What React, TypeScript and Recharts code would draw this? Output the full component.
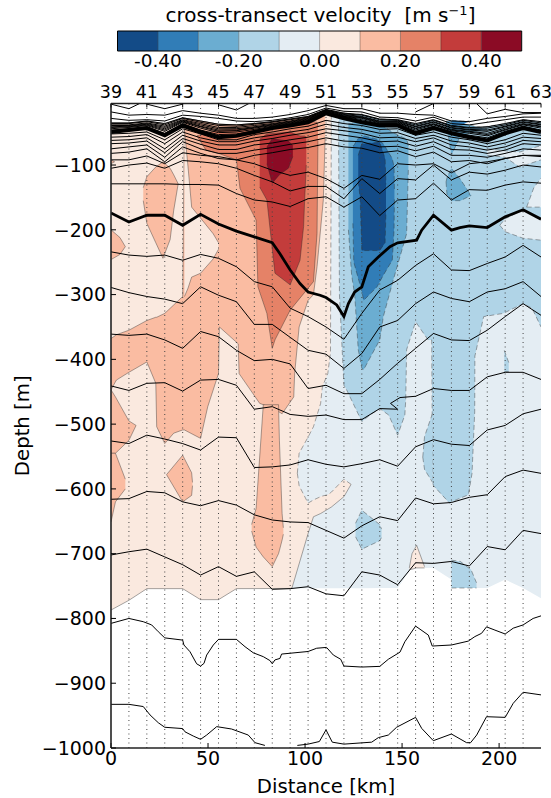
import React from 'react';
import { ComposedChart, Area, Line, XAxis, YAxis, ReferenceLine, ReferenceArea } from 'recharts';

const KM = 9.233;
const FONT = '"DejaVu Sans", sans-serif';
const colors = ['#134b87', '#317db7', '#6badd1', '#b0d4e7', '#e4edf3', '#fae9df', '#fabca2', '#e58267', '#c33c3b', '#8b0b25'];
const [DB, MB2, MB, LB, PB, PO, OR, CO, RE, DR] = colors;
const levelEdges = [-0.5, -0.4, -0.3, -0.2, -0.1, 0, 0.1, 0.2, 0.3, 0.4, 0.5];
const levelTicks = [-0.4, -0.2, 0, 0.2, 0.4];
const stationLabels = [39, 41, 43, 45, 47, 49, 51, 53, 55, 57, 59, 61, 63];
const depthTicks = [-100, -200, -300, -400, -500, -600, -700, -800, -900, -1000];
const distTicks = [0, 50, 100, 150, 200];
const stations = Array.from({ length: 25 }, (_, i) => i);

// isopycnals: depth (m) at each station
const u1 = [18, 23, 22, 23, 16, 20, 23, 28, 28, 26, 22, 16, 8, 13, 13, 20, 20, 22, 23, 32, 33, 28, 25, 21, 20];
const u2 = [28, 31, 30, 32, 23, 25, 28, 32, 33, 31, 27, 22, 12, 17, 18, 26, 27, 32, 26, 36, 38, 34, 30, 26, 26];
const u3 = [35, 35, 32, 36, 27, 32, 37, 38, 36, 33, 29, 25, 14, 20, 22, 29, 30, 36, 30, 39, 42, 41, 36, 30, 33];
const u3b = [36, 36, 33, 38, 28, 34, 39, 40, 37, 34, 30, 26, 15, 21, 23, 30, 31, 38, 31, 40, 43, 43, 38, 31, 35];
const u4 = [38, 38, 35, 40, 30, 36, 42, 42, 39, 36, 32, 27, 15, 22, 25, 32, 32, 40, 33, 42, 45, 46, 40, 33, 37];
const u4b = [39, 39, 36, 42, 31, 38, 44, 44, 41, 37, 33, 28, 16, 23, 26, 33, 33, 41, 34, 43, 46, 48, 41, 34, 38];
const u5 = [41, 40, 37, 44, 32, 40, 46, 46, 42, 38, 34, 29, 16, 24, 27, 34, 34, 43, 36, 45, 48, 51, 43, 36, 40];
const u5b = [42, 41, 38, 46, 33, 41, 48, 47, 43, 39, 35, 30, 17, 25, 28, 35, 35, 44, 37, 46, 49, 53, 45, 37, 41];
const u6 = [44, 42, 39, 48, 34, 43, 50, 49, 45, 40, 36, 31, 18, 25, 30, 36, 36, 46, 38, 47, 51, 55, 46, 38, 43];
const u6b = [46, 44, 41, 51, 36, 46, 53, 52, 47, 41, 37, 32, 19, 26, 32, 37, 37, 48, 40, 49, 54, 58, 48, 40, 46];
const thickUpper = [49, 46, 43, 54, 39, 49, 57, 55, 49, 43, 39, 34, 20, 28, 34, 39, 39, 51, 43, 51, 57, 62, 51, 43, 49];
const l1 = [52, 51, 49, 61, 44, 52, 61, 61, 53, 49, 44, 40, 31, 36, 39, 45, 44, 54, 49, 57, 61, 67, 61, 51, 54];
const l2 = [57, 56, 53, 67, 49, 58, 64, 64, 58, 54, 49, 45, 37, 42, 45, 51, 50, 59, 54, 63, 66, 72, 66, 57, 59];
const l3 = [62, 61, 58, 75, 54, 63, 69, 69, 63, 59, 54, 50, 44, 47, 51, 58, 57, 64, 58, 69, 72, 77, 72, 62, 64];
const l4 = [67, 66, 63, 81, 59, 68, 76, 76, 69, 66, 61, 57, 50, 54, 58, 64, 63, 71, 64, 76, 77, 82, 77, 67, 69];
const l5 = [75, 72, 69, 88, 64, 75, 82, 82, 77, 73, 68, 64, 58, 63, 64, 72, 71, 78, 71, 85, 85, 88, 82, 75, 77];
const l6 = [82, 80, 75, 95, 72, 82, 90, 92, 85, 81, 76, 73, 67, 72, 74, 81, 78, 87, 80, 95, 93, 98, 90, 85, 85];
const l7 = [92, 92, 86, 98, 81, 85, 87, 92, 98, 108, 116, 111, 121, 136, 116, 122, 98, 100, 98, 112, 98, 95, 90, 85, 87];
const l8 = [105, 100, 97, 105, 93, 95, 98, 105, 116, 126, 140, 133, 133, 152, 121, 144, 121, 123, 100, 123, 111, 114, 108, 100, 103];
const l9 = [129, 129, 129, 129, 130, 130, 131, 144, 154, 157, 164, 152, 149, 165, 149, 178, 154, 152, 128, 154, 138, 139, 131, 126, 128];
const l10 = [234, 239, 241, 239, 247, 238, 244, 257, 280, 288, 321, 334, 350, 369, 329, 293, 278, 255, 237, 262, 263, 252, 242, 224, 242];
const l11 = [289, 297, 303, 307, 314, 288, 301, 311, 346, 346, 366, 386, 392, 414, 391, 350, 340, 314, 296, 306, 311, 296, 291, 280, 303];
const l12 = [361, 363, 361, 370, 383, 357, 365, 386, 402, 400, 407, 445, 440, 453, 453, 431, 406, 383, 360, 370, 371, 355, 334, 314, 332];
const l14 = [526, 530, 517, 523, 530, 540, 520, 521, 567, 566, 563, 555, 562, 566, 561, 555, 565, 535, 524, 531, 533, 509, 502, 484, 477];
const l15 = [616, 615, 604, 606, 620, 626, 618, 625, 640, 648, 651, 652, 664, 676, 657, 643, 649, 614, 623, 621, 613, 609, 581, 571, 576];
const l16 = [702, 697, 693, 705, 717, 733, 720, 735, 728, 755, 754, 751, 762, 765, 728, 733, 748, 714, 715, 712, 719, 689, 694, 664, 669];

// isopycnals that do not follow the plain station grid: [station, depth]
const thickLower: number[][] = [[0, 174], [1, 188], [2, 177.5], [3, 177.5], [4, 193], [5, 176], [6, 191], [7, 202], [8, 211], [9, 220], [9.43, 237], [10, 262], [10.55, 283], [11, 296], [11.67, 301], [12, 304.5], [12.6, 316], [13, 334], [13.25, 314], [13.6, 296], [14, 288], [14.36, 257], [14.92, 242], [15.57, 226], [16, 220], [17.06, 216], [17.34, 200.6], [18, 177.5], [19, 200.6], [19.48, 196.5], [20, 194], [21, 196.5], [22, 180], [23, 169], [24, 183.6]];
const l13: number[][] = [[0, 441], [1, 448], [2, 437], [3, 436], [4, 449], [5, 432], [6, 431], [7, 440], [8, 477], [9, 473], [10, 485], [11, 488], [12, 486], [13, 493], [14, 493], [15, 476], [16, 477], [15.6, 468], [16.13, 459], [17, 457], [18, 445], [19, 448], [20, 448], [21, 427], [22, 420], [23, 420], [24, 431]];
const l17: number[][] = [[0, 807.6], [1, 800], [1.8, 805], [2.27, 810], [2.64, 820.5], [3, 830], [4, 833.4], [4.07, 841], [4.41, 851.4], [4.78, 870], [5, 873.5], [5.19, 869.4], [5.34, 856.5], [5.71, 841], [6, 832.3], [7, 832.3], [7.48, 843.6], [7.94, 853], [8.5, 859], [8.87, 865], [9, 870], [9.15, 864], [9.43, 861.7], [9.52, 855], [11, 851], [11.48, 846], [12.03, 844.7], [12.41, 856.5], [12.82, 863], [13, 873.5], [14, 875], [15, 874], [15.48, 863], [16.13, 852], [16.4, 836], [17, 811.8], [17.71, 825.6], [17.93, 842.6], [19, 841], [19.94, 835], [20.31, 828], [20.68, 823], [20.96, 813], [21.43, 818], [22, 824], [22.45, 815], [23, 810], [23.56, 800], [24, 796]];
const l18a: number[][] = [[0, 932.6], [1, 932.6], [1.8, 936], [2.18, 949], [2.64, 961], [3, 968], [4, 970], [4.13, 975], [4.59, 981.5], [5, 986.6], [5.34, 980], [5.9, 967], [6.73, 970.7], [7.66, 980], [8.04, 991.8], [8.59, 996]];
const l18b: number[][] = [[10.4, 996], [11, 994], [11.63, 990], [12, 972], [12.35, 991], [13, 994], [14.55, 991], [14.92, 984], [15.48, 980], [15.94, 968], [17, 952.7], [17.34, 969.7], [17.99, 988.7], [19, 978.4], [19.85, 991.8], [20.07, 991.8], [20.41, 980], [20.96, 951.7], [22, 952.7], [22.45, 931], [23, 914], [24, 918]];
const t1: number[][] = [[0, 6], [1, 13], [1.6, 5]];
const t2: number[][] = [[2, 6], [3, 13], [4, 6]];
const t3: number[][] = [[6, 7], [7, 15], [7.7, 5]];
const t4: number[][] = [[20.4, 5], [21, 21], [22, 14], [23, 19], [24, 19]];
const t5: number[][] = [[17, 18], [18, 5]];

// lower edge of the filled data
const floorEdge: number[][] = [[0, 787], [1, 772], [2, 754], [4, 754], [5, 771], [6, 771], [7, 754], [16, 753], [16.7, 725], [17, 722], [18, 722], [19, 740], [19.02, 753], [21, 753], [22, 740], [23, 753], [24, 769]];

const topAt = (s: number) => {
  const i = Math.min(23, Math.floor(s));
  return u3[i] + (u3[i + 1] - u3[i]) * (s - i);
};
const bottomAt = (s: number) => {
  for (let i = 0; i < floorEdge.length - 1; i++) {
    const [a, da] = floorEdge[i];
    const [b, db] = floorEdge[i + 1];
    if (s >= a && s <= b) return da + (db - da) * (s - a) / (b - a);
  }
  return 753;
};

// velocity regions: [station, upper depth | null = top of data, lower depth | null = floor]
const N = null;
const baseStations = [...new Set([...stations, ...floorEdge.map(p => p[0])])].sort((a, b) => a - b);
const baseRegion = baseStations.map(s => [s, N, N]);
const paleOrange = [...baseStations.filter(s => s <= 10).map(s => [s, N, N]), [10.1, N, 753], [11, N, 669], [11.3, N, 643], [11.7, N, 638], [12.3, N, 628], [13, N, 612], [13.4, N, 593]];
const paleBlue1 = [[10.4, 576, 576], [10.5, 545, 595], [11, 520, 622], [11.3, 504, 617], [11.7, 468, 612], [11.8, 442, 611], [12.1, 422, 609], [12.25, 390, 606], [12.3, N, 605], [13, N, 585], [13.4, N, 593]];
const paleOrange2 = [[16.65, 722, 724], [16.8, 700, 724], [17.06, 687, 722], [17.5, 720, 722]];

const light1 = [[12.7, 40, 40], [12.75, N, 300], [13, N, 440], [13.15, N, 447], [14, N, 496], [14.5, N, 485], [15, N, 476], [15.5, N, 486], [16, N, 517], [16.4, N, 486], [16.45, N, 463], [16.5, N, 385], [17, N, 342], [17.7, N, 370], [17.9, N, 370], [17.95, N, 590], [18, N, 595], [18.9, N, 622], [19, N, 620], [19.95, N, 609], [20.15, N, 576], [20.3, N, 481], [20.31, N, 395], [20.8, N, 334], [21.9, N, 329], [23, N, 314], [23.5, N, 321], [24, N, 350]];
const light2 = [[17.4, 551, 551], [17.5, 519, 570], [17.95, 483, 590]];
const light3 = [[19, 710, 753], [19.5, 712, 753], [20.1, 725, 753], [20.4, 745, 753]];
const light4 = [[13.65, 653, 674], [14, 633, 693], [15, 655, 680], [15.1, 662, 675]];
const light5 = [[21.95, 386, 419], [22.2, 405, 419]];
const pale2 = [[21.7, 193, 193], [22, 183, 203], [23, 169, 213], [24, 183, 216]];
const pale3 = [[21, 75, 85], [22, 78, 88], [22.8, 80, 103], [24, 70, 92]];
const pale4 = [[23.2, 165, 165], [23.6, 135, 165], [24, 120, 165]];

const mid1 = [[13.25, 36, 200], [13.43, 36, 270], [13.6, 34, 300], [13.8, 34, 385], [14, 34, 414], [14.1, 34, 416], [15, 38, 370], [15.2, 40, 334], [15.75, 50, 278], [16.5, 60, 206], [16.6, 70, 103]];
const mid2 = [[18.7, 126, 126], [18.75, 120, 145], [19, 105, 155], [19.5, 122, 155], [20.1, 147, 147]];
const mid3 = [[18.7, 32, 32], [19, 32, 85], [19.5, 36, 55], [20, 38, 50], [21, 45, 45]];
const dark1 = [[19, 31, 40], [19.6, 32, 38], [20, 32, 32]];
const deep1 = [[13.5, 70, 190], [13.55, 70, 250], [13.75, 60, 270], [14, 57, 295], [14.1, 55, 309], [14.85, 60, 288], [15.2, 67, 270], [15.7, 90, 247], [15.8, 103, 200], [15.82, 140, 150]];
const deepest = [[13.8, 85, 125], [13.9, 75, 150], [14, 67, 232], [15, 65, 232], [15.3, 90, 220], [15.35, 130, 170]];

const orangeMain = [[0, 368, 447], [0.3, 362, 432], [1, 355, 420], [2, 340, 404], [2.5, 335, 437], [2.55, 335, 504], [3, 329, 530], [3.5, 316, 514], [4, 303, 509], [4.1, N, 509], [5, N, 522], [5.4, N, 473], [6, N, 422], [6.05, N, 350], [7.1, N, 376], [7.15, N, 422], [8.3, N, 468], [9, N, 475], [9.55, N, 484], [10.2, N, 458], [10.25, N, 422], [10.5, N, 350], [11, N, 309], [11.3, N, 300], [11.5, N, 257], [11.85, N, 154], [11.95, N, 60]];
const tongue = [[4.1, 46, 303], [4.3, 103, 290], [4.5, 165, 273], [5, 182, 267], [5.7, 206, 245], [6, 220, 230]];
const orangeCol = [[7.85, 655, 665], [8.1, 630, 690], [8.5, 470, 705], [9, 470, 720], [9.35, 470, 700], [9.4, 525, 695], [9.55, 638, 679], [9.62, 660, 670]];
const orangeL1 = [[0, 447, 545], [0.25, 458, 545], [1, 495, 525], [1.4, 502, 502]];
const orangeL2 = [[0, 545, 651], [0.25, 545, 620], [0.8, 585, 600]];
const orangeB1 = [[3.1, 578, 578], [4, 548, 620], [4.5, 575, 610], [4.55, 590, 595]];
const orangeB2 = [[1.8, 135, 155], [2, 118, 190], [2.5, 103, 220], [2.9, 95, 244], [3.3, 105, 215], [3.5, 115, 170], [3.75, 129, 129]];
const orangeB3 = [[0, 92, 98], [0.2, 95, 95]];
const orangeB4 = [[0, 200, 246], [0.5, 212, 238], [0.8, 226, 226]];
const coral = [[4.8, 55, 55], [5.3, 50, 77], [6, 46, 82], [7, 44, 92], [7.2, 44, 136], [8.1, 44, 185], [8.2, 44, 288], [8.7, 44, 329], [9, 44, 383], [9.15, 42, 370], [10, 38, 324], [11.3, 33, 280], [11.5, 34, 206], [11.55, 40, 62]];
const red = [[8.3, 60, 134], [8.7, 52, 154], [9.15, 51, 267], [10, 49, 285], [10.55, 55, 247], [10.75, 55, 195], [10.8, 55, 160], [10.9, 57, 100]];
const darkRed = [[8.7, 72, 98], [9, 59, 128], [9.4, 61, 115], [9.9, 63, 105], [10.15, 70, 87]];

const fillLayers: [any[], string, boolean][] = [
  [baseRegion, PB, true], [paleOrange, PO, false], [paleBlue1, PB, true], [paleOrange2, PO, false],
  [light1, LB, true], [light2, LB, true], [light3, LB, true], [light4, LB, true], [light5, LB, true],
  [pale2, PB, true], [pale3, PB, true], [pale4, PB, true],
  [mid1, MB, true], [mid2, MB, true], [mid3, MB, true], [dark1, MB2, true], [deep1, MB2, true], [deepest, DB, true],
  [orangeMain, OR, false], [tongue, PO, false], [orangeCol, OR, false], [orangeL1, OR, false], [orangeL2, OR, false],
  [orangeB1, OR, false], [orangeB2, OR, false], [orangeB3, OR, false], [orangeB4, OR, false],
  [coral, CO, false], [red, RE, false], [darkRed, DR, false],
];

const toRegion = (rows: any[]) => rows.map(([s, lo, hi]) => ({
  x: s * KM,
  r: [-(hi ?? bottomAt(s)), -(lo ?? topAt(s))],
}));
const fromGrid = (depths: number[]) => depths.map((d, i) => ({ x: i * KM, d: -d }));
const fromPairs = (pairs: number[][]) => pairs.map(([s, d]) => ({ x: s * KM, d: -d }));

const gridLines = [u1, u2, u3, u3b, u4, u4b, u5, u5b, u6, u6b, l1, l2, l3, l4, l5, l6, l7, l8, l9, l10, l11, l12, l14, l15, l16];
const pairLines = [l13, l17, l18a, l18b, t1, t2, t3, t4, t5];

const tickStyle = { fontFamily: FONT, fontSize: 19, fill: '#000' };
const axisLine = { stroke: '#222', strokeWidth: 1.6 };
const tickLine = { stroke: '#000', strokeWidth: 1 };
const XMAX = 24 * KM;

function Colorbar() {
  return (
    <ComposedChart width={551} height={80} margin={{ top: 31, left: 117.5, right: 29.3, bottom: 0 }}>
      <XAxis dataKey="x" type="number" domain={[-0.5, 0.5]} ticks={levelTicks} height={29} tickSize={0} tickMargin={3}
        axisLine={false} tickLine={false} tick={{ ...tickStyle, fontSize: 18.5 }} tickFormatter={(v: number) => v.toFixed(2)} allowDataOverflow />
      <YAxis hide domain={[0, 1]} />
      {colors.map((c, i) => (
        <Area key={i} data={[{ x: levelEdges[i], r: [0, 1] }, { x: levelEdges[i + 1], r: [0, 1] }]} dataKey="r" type="linear"
          fill={c} fillOpacity={1} stroke="none" isAnimationActive={false} dot={false} activeDot={false} />
      ))}
      {levelEdges.slice(1, 10).map((e, i) => (
        <ReferenceLine key={i} x={e} stroke="rgba(0,0,0,0.3)" strokeWidth={1} />
      ))}
      <ReferenceArea x1={-0.5} x2={0.5} y1={0} y2={1} fill="none" stroke="#000" strokeWidth={1} fillOpacity={0} />
    </ComposedChart>
  );
}

export default function App() {
  return (
    <div style={{ position: 'absolute', left: 0, top: 0, width: 551, height: 798, background: '#fff', overflow: 'hidden' }}>
      <div style={{ position: 'absolute', left: 0, top: 0 }}><Colorbar /></div>
      <div style={{ position: 'absolute', left: 100, width: 441, textAlign: 'center', top: 3, whiteSpace: 'pre', fontFamily: FONT, fontSize: 20, lineHeight: '24px', color: '#000' }}>
        {'cross-transect velocity  [m s'}<sup style={{ fontSize: 13, lineHeight: 0, verticalAlign: 7 }}>{'\u22121'}</sup>{']'}
      </div>
      <div style={{ position: 'absolute', left: 0, top: 0 }}>
        <ComposedChart width={551} height={798} margin={{ top: 0, left: 0, right: 10, bottom: 0 }}>
          <XAxis dataKey="x" type="number" domain={[0, XMAX]} ticks={distTicks} height={50} allowDataOverflow
            tick={tickStyle} tickSize={-5} tickMargin={9} axisLine={axisLine} tickLine={tickLine}
            label={{ value: 'Distance [km]', position: 'insideBottom', offset: 5, style: { fontFamily: FONT, fontSize: 19.7, fill: '#000' } }} />
          <XAxis xAxisId="top" orientation="top" dataKey="x" type="number" domain={[0, XMAX]} height={103.5} allowDataOverflow
            ticks={stationLabels.map((_, i) => i * 2 * KM)} tickFormatter={(v: number) => String(stationLabels[Math.round(v / (2 * KM))])}
            tick={{ ...tickStyle, fontSize: 17.5 }} tickSize={-4} tickMargin={10} axisLine={axisLine} tickLine={tickLine} interval={0} />
          <YAxis type="number" domain={[-1000, -5]} ticks={depthTicks} width={111} allowDataOverflow interval={0}
            tick={tickStyle} tickSize={-5} tickMargin={10} axisLine={axisLine} tickLine={tickLine}
            tickFormatter={(v: number) => '\u2212' + Math.abs(v)}
            label={{ value: 'Depth [m]', angle: -90, position: 'insideLeft', offset: 22, style: { fontFamily: FONT, fontSize: 19.7, fill: '#000', textAnchor: 'middle' } }} />
          <YAxis yAxisId="right" orientation="right" type="number" domain={[-1000, -5]} ticks={depthTicks} width={0} allowDataOverflow interval={0}
            tick={false} tickSize={-5} axisLine={axisLine} tickLine={tickLine} />
          {fillLayers.map(([rows, color, neg], i) => (
            <Area key={i} data={toRegion(rows)} dataKey="r" type="linear" fill={color} fillOpacity={1}
              stroke={i === 0 ? 'none' : 'rgba(40,40,40,0.4)'} strokeWidth={1} strokeDasharray={neg ? '5 3' : undefined}
              dot={false} activeDot={false} isAnimationActive={false} />
          ))}
          {stations.slice(1, 24).map(s => (
            <ReferenceLine key={s} x={s * KM} stroke="#444" strokeWidth={1} strokeDasharray="1 3.5" />
          ))}
          {gridLines.map((l, i) => (
            <Line key={i} data={fromGrid(l)} dataKey="d" type="linear" stroke="#000" strokeWidth={1} dot={false} activeDot={false} isAnimationActive={false} />
          ))}
          {pairLines.map((l, i) => (
            <Line key={i} data={fromPairs(l)} dataKey="d" type="linear" stroke="#000" strokeWidth={1} dot={false} activeDot={false} isAnimationActive={false} />
          ))}
          <Line data={fromGrid(thickUpper)} dataKey="d" type="linear" stroke="#000" strokeWidth={4} dot={false} activeDot={false} isAnimationActive={false} />
          <Line data={fromPairs(thickLower)} dataKey="d" type="linear" stroke="#000" strokeWidth={2.8} dot={false} activeDot={false} isAnimationActive={false} />
        </ComposedChart>
      </div>
    </div>
  );
}
